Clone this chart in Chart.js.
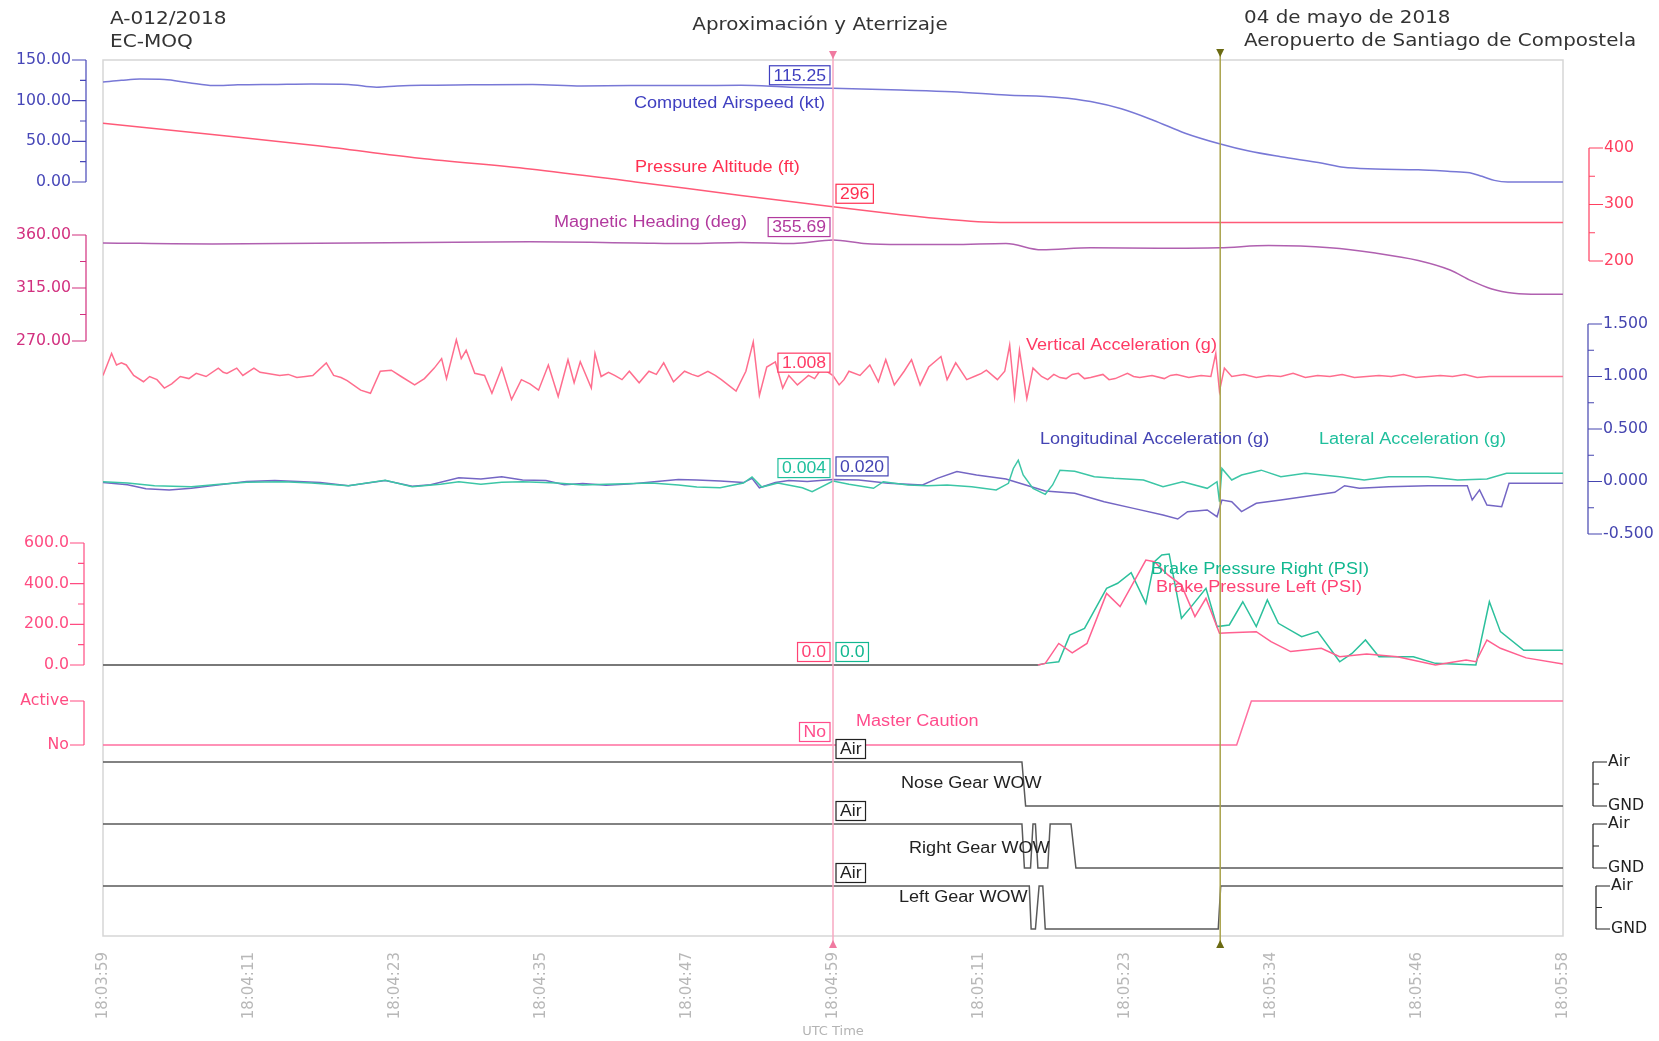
<!DOCTYPE html>
<html>
<head>
<meta charset="utf-8">
<title>A-012/2018 EC-MOQ</title>
<script src="https://cdn.jsdelivr.net/npm/chart.js@4.4.1/dist/chart.umd.min.js"></script>
<style>
  html, body { margin: 0; padding: 0; background: #fff; }
  #wrap { position: relative; width: 1659px; height: 1041px; }
</style>
</head>
<body>
<div id="wrap"><canvas id="fdr"></canvas></div>
<script>
// ================= DATA (seconds after 18:03:59) =================
const tickLabels = ["18:03:59", "18:04:11", "18:04:23", "18:04:35", "18:04:47", "18:04:59",
  "18:05:11", "18:05:23", "18:05:34", "18:05:46", "18:05:58"];
const timeSpan = 119;
const cursorTimes = [59.5, 91.06];

const spdTicks = [0, 50, 100, 150];
const hdgTicks = [270, 315, 360];
const altTicks = [200, 300, 400];
const accTicks = [-0.5, 0, 0.5, 1, 1.5];
const brakeTicks = [0, 200, 400, 600];
const cautionTicks = ["No", "Active"];
const wowTicks = ["GND", "Air"];

const spdT = [0, 1.5, 3, 5, 7, 9, 11, 14, 17, 20, 22.3, 24, 26, 30, 35, 39, 43, 48, 52, 56, 59.5,
  65, 69.2, 73.6, 77.9, 80.5, 83, 85.6, 88.2, 91, 93.4, 96, 99.4, 101.1, 103.7, 107.2, 109.8, 111.4, 112.4, 113.4, 114.5, 119];
const spdV = [123, 125, 126.5, 126, 122, 118.5, 119.5, 120, 120.5, 120, 116.5, 118, 119, 119.5, 120, 118, 118.5, 118.5, 119, 116.5, 115.25,
  113, 111, 107, 104, 99, 90, 76, 60, 47, 38, 31, 23, 18, 16, 15, 13, 11.5, 7, 2, 0, 0];

const altT = [0, 8.9, 17.5, 25.8, 34.8, 43.4, 52, 59.5, 65, 69.2, 71.8, 75, 119];
const altV = [444, 424, 404, 382, 363, 340, 316, 296, 282, 273, 269, 268, 268];

const hdgT = [0, 8.9, 17.5, 26.1, 34.8, 43.4, 47.7, 52, 56.3, 59.5, 62, 65, 69.2, 73.6, 76.5, 80.5, 86, 91, 95, 100,
  103.7, 107.2, 109.8, 111.5, 113.2, 115, 117, 119];
const hdgV = [353.3, 352.4, 353.1, 353.7, 354.2, 353.3, 352.8, 353.7, 352.8, 355.69, 352.8, 351.9, 351.9, 352.8, 347.4, 349.2, 348.8, 349.2, 351, 349.2,
  344.7, 338.4, 330.3, 321.3, 314.1, 310.5, 309.6, 309.6];

const vrtT = [0, 0.7, 1.1, 1.5, 1.9, 2.5, 3.3, 3.8, 4.4, 5.0, 5.6, 6.3, 7.0, 7.6, 8.4, 9.4, 9.8, 10.1, 10.9, 11.4, 12.3, 12.8, 13.3, 14.4, 15.1, 15.8, 16.5, 17.1,
  18.2, 18.8, 19.4, 19.9, 21.0, 21.8, 22.6, 23.5, 24.3, 25.4, 26.2, 27.0, 27.6, 28.0, 28.8, 29.2, 29.6, 30.3, 31.1, 31.7, 32.5,
  33.3, 34.1, 34.8, 35.5, 36.3, 37.1, 37.9, 38.4, 38.9, 39.8, 40.1, 40.6, 41.2, 41.7, 42.3, 42.9, 43.7, 44.5, 45.1, 45.7, 46.5, 47.4, 48.0, 48.5, 49.3,
  49.9, 50.4, 51.6, 52.4, 53.0, 53.5, 54.1, 54.8, 55.4, 55.9, 56.6, 57.0, 57.5, 58.0, 58.6, 59.5, 60.0, 60.4, 60.8, 61.7, 62.5, 63.2, 63.8,
  64.5, 65.3, 65.9, 66.6, 67.3, 68.3, 68.8, 69.5, 70.4, 71.2, 71.6, 72.0, 72.9, 73.5, 73.9, 74.3, 74.7, 75.3, 75.8, 76.5, 77.0, 77.5,
  78.0, 78.5, 79.0, 79.5, 80.0, 80.5, 81.5, 82.0, 82.5, 83.5, 84.0, 84.5, 85.5, 86.5, 87.0, 87.5, 88.5, 89.5, 90.3, 90.7, 91.0, 91.4, 92, 93, 94, 95,
  96, 97, 98, 99, 100, 101, 102, 103, 104, 105, 106, 107, 108, 109, 110, 111, 112, 113, 114, 116, 119];
const vrtV = [1.01, 1.22, 1.11, 1.13, 1.11, 1.01, 0.95, 1.00, 0.97, 0.89, 0.93, 1.00, 0.98, 1.03, 1.00, 1.08, 1.04, 1.03, 1.08, 1.01, 1.08, 1.04, 1.03, 1.01, 1.02, 0.99, 1.00, 1.01,
  1.13, 1.01, 0.99, 0.96, 0.87, 0.84, 1.05, 1.06, 1.00, 0.92, 0.98, 1.08, 1.17, 0.98, 1.35, 1.17, 1.25, 1.03, 1.01, 0.84, 1.08,
  0.78, 0.97, 0.93, 0.87, 1.11, 0.81, 1.16, 0.94, 1.14, 0.89, 1.22, 1.00, 1.04, 1.01, 0.97, 1.05, 0.94, 1.05, 1.02, 1.13, 0.95, 1.05, 1.02, 1.00, 1.05,
  1.01, 0.97, 0.86, 1.05, 1.33, 0.82, 1.09, 1.14, 0.89, 1.01, 0.92, 0.96, 1.01, 0.98, 1.08, 1.008, 0.92, 0.97, 1.05, 1.01, 1.11, 0.95, 1.16,
  0.92, 1.05, 1.16, 0.92, 1.09, 1.19, 0.97, 1.13, 0.97, 1.01, 1.03, 1.06, 0.97, 1.05, 1.30, 0.81, 1.25, 0.79, 1.08, 1.00, 0.97, 1.02,
  0.99, 0.98, 1.02, 1.03, 0.98, 0.99, 1.02, 0.97, 0.98, 1.03, 1.00, 0.99, 1.01, 0.98, 1.01, 1.02, 0.99, 1.01, 1.00, 1.22, 0.86, 1.08, 1.00, 1.02, 0.99, 1.01,
  1.00, 1.03, 0.99, 1.01, 1.00, 1.02, 0.99, 1.00, 1.01, 1.00, 1.02, 0.99, 1.00, 1.01, 1.00, 1.02, 0.99, 1.00, 1.00, 1.00, 1.00];

const lonT = [0, 2, 3.5, 5.4, 7.2, 9.5, 11.7, 14, 15.9, 17.7, 20, 23, 25.2, 26.7, 29, 30.8, 32.5, 34.2, 36.1, 37.6,
  39.1, 41, 42.8, 44.7, 46.9, 48.4, 50.3, 52.2, 52.9, 53.5, 54.8, 55.9, 57.4, 59.5, 61.6, 64, 66.8, 68, 69.6, 71.2,
  73.6, 75.2, 76.8, 79.2, 81.6, 84, 86.4, 87.6, 88.4, 90, 90.8, 91.2, 92, 92.8, 94, 96, 98.4, 100.4, 101.2, 102.4,
  104.8, 108, 111.2, 111.6, 112.2, 112.8, 114, 114.6, 116, 119];
const lonV = [-0.01, -0.03, -0.07, -0.08, -0.065, -0.03, 0, 0.01, 0, -0.01, -0.04, 0.01, -0.045, -0.03, 0.035, 0.025, 0.045, 0.015, 0.01, -0.03,
  -0.02, -0.035, -0.025, -0.005, 0.02, 0.015, 0.005, -0.01, 0.03, -0.06, -0.01, 0.01, 0, 0.02, 0.014, -0.017, -0.033, 0.03, 0.094, 0.062,
  0.024, -0.033, -0.09, -0.113, -0.192, -0.256, -0.319, -0.357, -0.287, -0.271, -0.335, -0.176, -0.192, -0.287, -0.208, -0.176, -0.135, -0.103, -0.04, -0.065,
  -0.049, -0.04, -0.04, -0.176, -0.08, -0.224, -0.24, -0.017, -0.017, -0.017];

const latT = [0, 2, 4.2, 7.2, 9.5, 11.7, 14.7, 17, 20, 23, 25.2, 27.5, 29, 30.8, 32.5, 34.2, 37, 39.1, 41, 44.7,
  46.9, 48.4, 50.3, 52.2, 52.9, 53.7, 55, 57, 57.8, 59.5, 60.8, 62.8, 63.6, 65.6, 67.2, 68.8, 70.8, 72.8, 73.8, 74.2,
  74.6, 75.0, 75.8, 76.8, 77.4, 78.0, 79.2, 80.8, 82.4, 84.8, 86.4, 88, 90, 90.8, 91.0, 91.2, 92, 92.8, 94.4, 96,
  98, 100.8, 102.8, 104.8, 108, 110.4, 112.8, 114.4, 119];
const latV = [-0.002, -0.015, -0.04, -0.049, -0.027, -0.008, -0.002, -0.015, -0.04, 0.011, -0.049, -0.027, -0.002, -0.027, -0.008, -0.002, -0.015, -0.033, -0.027, -0.015,
  -0.033, -0.053, -0.059, -0.015, 0.043, -0.053, -0.015, -0.059, -0.097, 0.004, -0.027, -0.065, -0.002, -0.033, -0.04, -0.033, -0.049, -0.081, -0.017, 0.124,
  0.203, 0.062, -0.065, -0.122, -0.033, 0.108, 0.098, 0.046, 0.03, 0.014, -0.049, -0.002, -0.065, -0.002, -0.192, 0.124, 0.014, 0.062, 0.108, 0.046,
  0.078, 0.046, 0.014, 0.046, 0.046, 0.014, 0.024, 0.078, 0.078];

const brRT = [0, 76.2, 76.8, 77.9, 78.8, 80.0, 81.8, 82.7, 83.8, 85.0, 85.7, 86.3, 86.9, 87.9, 88.7, 89.9, 90.8, 91.8, 92.9, 94.0,
  94.9, 95.8, 97.7, 99.0, 100.8, 101.8, 102.9, 104.0, 106.8, 108.6, 111.9, 113.0, 113.9, 115.8, 119];
const brRV = [0, 0, 8, 16, 147, 180, 377, 402, 454, 303, 508, 541, 546, 230, 287, 377, 189, 197, 311, 189,
  320, 205, 139, 164, 16, 57, 123, 41, 41, 8, 0, 311, 164, 72, 72];

const brLT = [0, 76.2, 76.8, 77.9, 79.0, 80.2, 81.8, 82.9, 85.0, 85.7, 86.8, 87.9, 89.0, 89.9, 91.0, 91.8, 94.0, 95.2, 96.8, 99.3,
  100.8, 103.0, 105.5, 108.6, 111.1, 111.9, 112.8, 113.9, 116, 119];
const brLV = [0, 0, 8, 106, 60, 106, 352, 287, 516, 508, 443, 393, 238, 328, 156, 159, 164, 115, 66, 82,
  41, 54, 41, 0, 25, 16, 123, 82, 35, 5];

const mcT = [0, 92.4, 93.6, 119];
const mcV = [0, 0, 1, 1];
const noseT = [0, 74.9, 75.2, 119];
const noseV = [1, 1, 0, 0];
const rgtT = [0, 74.9, 75.1, 75.6, 75.8, 76.0, 76.2, 77.0, 77.2, 78.9, 79.3, 119];
const rgtV = [1, 1, 0, 0, 1, 1, 0, 0, 1, 1, 0, 0];
const lftT = [0, 75.5, 75.65, 76.0, 76.3, 76.6, 76.8, 90.9, 91.1, 119];
const lftV = [1, 1, 0, 0, 1, 1, 0, 0, 1, 1];

// ================= LAYOUT =================
const chartTop = 60, chartBottom = 936;
// value at low pixel, value at high pixel -> each trace gets its own band of the plot
function band(lo, pLo, hi, pHi) {
  const k = (pLo - pHi) / (hi - lo);
  return { type: "linear", display: false, min: lo - (chartBottom - pLo) / k, max: hi + (pHi - chartTop) / k };
}

const pts = (ts, vs) => ts.map((t, i) => ({ x: t, y: vs[i] }));
function trace(label, ts, vs, axis, color, extra) {
  return Object.assign({
    label, data: pts(ts, vs), yAxisID: axis, borderColor: color,
    borderWidth: 1.5, pointRadius: 0, fill: false, tension: 0
  }, extra || {});
}
const zeroGrey = { segment: { borderColor: c => (c.p0.parsed.y === 0 && c.p1.parsed.y === 0) ? "#707070" : undefined } };

const datasets = [
  trace("Computed Airspeed (kt)", spdT, spdV, "ySpd", "#7878d6", { cubicInterpolationMode: "monotone" }),
  trace("Pressure Altitude (ft)", altT, altV, "yAlt", "#ff5a78", { cubicInterpolationMode: "monotone" }),
  trace("Magnetic Heading (deg)", hdgT, hdgV, "yHdg", "#b060b0", { cubicInterpolationMode: "monotone" }),
  trace("Vertical Acceleration (g)", vrtT, vrtV, "yAcc", "#ff6e8e"),
  trace("Lateral Acceleration (g)", latT, latV, "yAcc", "#3cc6a6"),
  trace("Longitudinal Acceleration (g)", lonT, lonV, "yAcc", "#7466c4"),
  trace("Brake Pressure Left (PSI)", brLT, brLV, "yBrk", "#ff6090", zeroGrey),
  trace("Brake Pressure Right (PSI)", brRT, brRV, "yBrk", "#2cc09c", zeroGrey),
  trace("Master Caution", mcT, mcV, "yMc", "#ff6fa0"),
  trace("Nose Gear WOW", noseT, noseV, "yNose", "#5a5a5a"),
  trace("Right Gear WOW", rgtT, rgtV, "yRgt", "#5a5a5a"),
  trace("Left Gear WOW", lftT, lftV, "yLft", "#5a5a5a")
];

// axes drawn as short brackets next to the plot
const axisDefs = [
  { id: "ySpd", x: 86, side: -1, ticks: spdTicks, minor: [25, 75, 125], fmt: v => v.toFixed(2), color: "#4747b8" },
  { id: "yHdg", x: 86, side: -1, ticks: hdgTicks, minor: [292.5, 337.5], fmt: v => v.toFixed(2), color: "#d2307f" },
  { id: "yBrk", x: 84, side: -1, ticks: brakeTicks, minor: [100, 300, 500], fmt: v => v.toFixed(1), color: "#ff4c82" },
  { id: "yMc", x: 84, side: -1, ticks: [0, 1], minor: [], fmt: v => cautionTicks[v], color: "#ff4c82" },
  { id: "yAlt", x: 1589, side: 1, ticks: altTicks, minor: [250, 350], fmt: v => String(v), color: "#ff4060" },
  { id: "yAcc", x: 1588, side: 1, ticks: accTicks, minor: [-0.25, 0.25, 0.75, 1.25], fmt: v => v.toFixed(3), color: "#4545b0" },
  { id: "yNose", x: 1593, side: 1, ticks: [0, 1], minor: [0.5], fmt: v => wowTicks[v], color: "#222" },
  { id: "yRgt", x: 1593, side: 1, ticks: [0, 1], minor: [0.5], fmt: v => wowTicks[v], color: "#222" },
  { id: "yLft", x: 1596, side: 1, ticks: [0, 1], minor: [0.5], fmt: v => wowTicks[v], color: "#222" }
];

// trace captions and cursor read-outs
const captions = [
  { text: "Computed Airspeed (kt)", x: 634, y: 104, color: "#3f3fc0" },
  { text: "Pressure Altitude (ft)", x: 635, y: 168, color: "#ff2f50" },
  { text: "Magnetic Heading (deg)", x: 554, y: 223, color: "#b23a9e" },
  { text: "Vertical Acceleration (g)", x: 1026, y: 346, color: "#ff3a64" },
  { text: "Longitudinal Acceleration (g)", x: 1040, y: 440, color: "#4444b4" },
  { text: "Lateral Acceleration (g)", x: 1319, y: 440, color: "#1fbf9c" },
  { text: "Brake Pressure Right (PSI)", x: 1151, y: 570, color: "#12b890" },
  { text: "Brake Pressure Left (PSI)", x: 1156, y: 588, color: "#ff4274" },
  { text: "Master Caution", x: 856, y: 722, color: "#ff4c8c" },
  { text: "Nose Gear WOW", x: 901, y: 784, color: "#222" },
  { text: "Right Gear WOW", x: 909, y: 849, color: "#222" },
  { text: "Left Gear WOW", x: 899, y: 898, color: "#222" }
];
const readouts = [
  { axis: "ySpd", value: 115.25, text: "115.25", side: -1, color: "#3f3fc0" },
  { axis: "yAlt", value: 296, text: "296", side: 1, color: "#ff2f50" },
  { axis: "yHdg", value: 355.69, text: "355.69", side: -1, color: "#b23a9e" },
  { axis: "yAcc", value: 1.008, text: "1.008", side: -1, color: "#ff3a64" },
  { axis: "yAcc", value: 0.004, text: "0.004", side: -1, color: "#1fbf9c" },
  { axis: "yAcc", value: 0.020, text: "0.020", side: 1, color: "#4444b4" },
  { axis: "yBrk", value: 0, text: "0.0", side: -1, color: "#ff4274" },
  { axis: "yBrk", value: 0, text: "0.0", side: 1, color: "#12b890" },
  { axis: "yMc", value: 0, text: "No", side: -1, color: "#ff4c8c" },
  { axis: "yNose", value: 1, text: "Air", side: 1, color: "#222" },
  { axis: "yRgt", value: 1, text: "Air", side: 1, color: "#222" },
  { axis: "yLft", value: 1, text: "Air", side: 1, color: "#222" }
];

// ================= PLUGIN =================
function tri(ctx, x, y, dir, color) {
  ctx.fillStyle = color;
  ctx.beginPath();
  ctx.moveTo(x - 4, y);
  ctx.lineTo(x + 4, y);
  ctx.lineTo(x, y + dir * 8);
  ctx.closePath();
  ctx.fill();
}

// the source screenshot is stretched sideways, so the text is too
function wideText(ctx, text, x, y, align, sx) {
  ctx.save();
  ctx.translate(x, y);
  ctx.scale(sx, 1);
  ctx.textAlign = align;
  ctx.fillText(text, 0, 0);
  ctx.restore();
}

const fdrPlugin = {
  id: "fdr",
  beforeDatasetsDraw(chart) {
    const { ctx, chartArea: a } = chart;
    ctx.save();
    ctx.strokeStyle = "#d6d6d6";
    ctx.lineWidth = 1.5;
    ctx.strokeRect(a.left, a.top, a.right - a.left, a.bottom - a.top);
    ctx.restore();
  },
  afterDatasetsDraw(chart) {
    const { ctx, chartArea: a, scales } = chart;
    ctx.save();

    // cursors
    const xs = scales.x;
    const c1 = xs.getPixelForValue(cursorTimes[0]);
    const c2 = xs.getPixelForValue(cursorTimes[1]);
    ctx.lineWidth = 1.5;
    ctx.strokeStyle = "#f7a9c2";
    ctx.beginPath(); ctx.moveTo(c1, a.top - 8); ctx.lineTo(c1, a.bottom + 10); ctx.stroke();
    ctx.strokeStyle = "#a9a24a";
    ctx.beginPath(); ctx.moveTo(c2, a.top - 10); ctx.lineTo(c2, a.bottom + 10); ctx.stroke();
    tri(ctx, c1, a.top - 9, 1, "#f07aa0");
    tri(ctx, c1, a.bottom + 12, -1, "#f07aa0");
    tri(ctx, c2, a.top - 11, 1, "#6b6a12");
    tri(ctx, c2, a.bottom + 12, -1, "#6b6a12");

    // axis brackets
    ctx.lineWidth = 1.2;
    ctx.font = "15px 'DejaVu Sans'";
    ctx.textBaseline = "middle";
    axisDefs.forEach(d => {
      const s = scales[d.id];
      const vals = d.ticks.map((v, i) => typeof v === "number" ? v : i);
      const yA = s.getPixelForValue(vals[0]);
      const yB = s.getPixelForValue(vals[vals.length - 1]);
      ctx.strokeStyle = d.color;
      ctx.fillStyle = d.color;
      ctx.beginPath();
      ctx.moveTo(d.x, yA); ctx.lineTo(d.x, yB);
      vals.forEach(v => {
        const y = s.getPixelForValue(v);
        ctx.moveTo(d.x, y); ctx.lineTo(d.x + d.side * 14, y);
      });
      d.minor.forEach(v => {
        const y = s.getPixelForValue(v);
        ctx.moveTo(d.x, y); ctx.lineTo(d.x + d.side * 6, y);
      });
      ctx.stroke();
      vals.forEach(v => wideText(ctx, d.fmt(v), d.x + d.side * 15, s.getPixelForValue(v), d.side < 0 ? "right" : "left", 1.05));
    });

    // captions
    ctx.font = "16px 'Liberation Sans'";
    captions.forEach(c => { ctx.fillStyle = c.color; wideText(ctx, c.text, c.x, c.y, "left", 1.13); });

    // read-out boxes at the pink cursor
    readouts.forEach(r => {
      const y = scales[r.axis].getPixelForValue(r.value) - 13;
      const w = ctx.measureText(r.text).width * 1.1 + 8;
      const x0 = r.side < 0 ? c1 - 3 - w : c1 + 3;
      ctx.fillStyle = "#fff";
      ctx.fillRect(x0, y - 9.5, w, 19);
      ctx.strokeStyle = r.color;
      ctx.lineWidth = 1.2;
      ctx.strokeRect(x0, y - 9.5, w, 19);
      ctx.fillStyle = r.color;
      wideText(ctx, r.text, x0 + w / 2, y + 1, "center", 1.1);
    });

    // header
    ctx.fillStyle = "#333";
    ctx.font = "17px 'DejaVu Sans'";
    wideText(ctx, "A-012/2018", 110, 20, "left", 1.18);
    wideText(ctx, "EC-MOQ", 110, 43, "left", 1.18);
    wideText(ctx, "04 de mayo de 2018", 1244, 19, "left", 1.17);
    wideText(ctx, "Aeropuerto de Santiago de Compostela", 1244, 42, "left", 1.17);
    wideText(ctx, "Aproximación y Aterrizaje", 820, 26, "center", 1.17);
    ctx.restore();
  }
};

// ================= CHART =================
Chart.defaults.font.family = "'DejaVu Sans', sans-serif";

new Chart(document.getElementById("fdr").getContext("2d"), {
  type: "line",
  data: { datasets },
  options: {
    responsive: true,
    maintainAspectRatio: false,
    animation: false,
    events: [],
    layout: { padding: { left: 103, right: 96, top: chartTop, bottom: 0 } },
    plugins: { legend: { display: false }, tooltip: { enabled: false } },
    scales: {
      x: {
        type: "linear",
        min: 0,
        max: timeSpan,
        grid: { display: false },
        border: { display: false },
        afterBuildTicks: s => { s.ticks = tickLabels.map((_, i) => ({ value: i * timeSpan / (tickLabels.length - 1) })); },
        afterFit: s => { s.height = 1041 - chartBottom; },
        ticks: {
          autoSkip: false,
          minRotation: 90,
          maxRotation: 90,
          padding: 8,
          color: "#b8b8b8",
          font: { size: 15 },
          callback: (v, i) => tickLabels[i]
        },
        title: { display: true, text: "UTC Time", color: "#b4b4b4", font: { size: 13 }, padding: { top: 0, bottom: 2 } }
      },
      ySpd: band(0, 182, 150, 60),
      yHdg: band(270, 341, 360, 235),
      yAlt: band(200, 261, 400, 148),
      yAcc: band(-0.5, 534, 1.5, 324),
      yBrk: band(0, 665, 600, 543),
      yMc: band(0, 745, 1, 701),
      yNose: band(0, 806, 1, 762),
      yRgt: band(0, 868, 1, 824),
      yLft: band(0, 929, 1, 886)
    }
  },
  plugins: [fdrPlugin]
});
</script>
</body>
</html>
